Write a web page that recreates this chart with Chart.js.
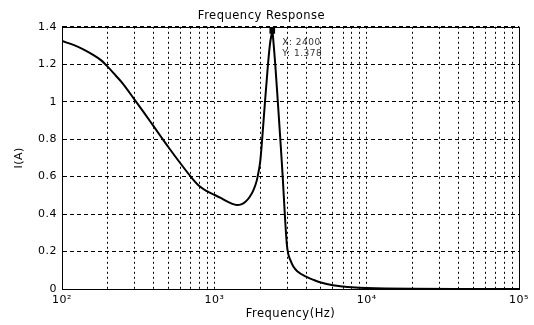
<!DOCTYPE html>
<html>
<head>
<meta charset="utf-8">
<script src="https://cdn.jsdelivr.net/npm/chart.js@4"></script>
<style>
  body { margin: 0; background: #fff; }
  canvas { display: block; }
</style>
</head>
<body>
<canvas id="chart" width="534" height="325"></canvas>
<script>
// datos
const freqHz = [100, 120, 140, 160, 180, 200, 225, 250, 300, 350, 400, 450, 500, 600, 700, 800, 900,
  1000, 1100, 1200, 1300, 1400, 1500, 1600, 1700, 1800, 1900, 1950, 2000, 2060, 2150, 2250,
  2320, 2390, 2400, 2410, 2460, 2510, 2610, 2710, 2810, 2900, 2990, 3050, 3150, 3300, 3500,
  4000, 4500, 5000, 6000, 7000, 8000, 10000, 20000, 50000, 100000];
const currentA = [1.324, 1.302, 1.277, 1.25, 1.222, 1.186, 1.14, 1.098, 1.01, 0.935, 0.868, 0.809, 0.757, 0.67, 0.6, 0.548, 0.521,
  0.503, 0.486, 0.469, 0.456, 0.449, 0.452, 0.466, 0.49, 0.525, 0.58, 0.625, 0.68, 0.8, 1.0, 1.2,
  1.31, 1.37, 1.378, 1.37, 1.29, 1.2, 1.0, 0.8, 0.6, 0.4, 0.24, 0.19, 0.155, 0.12, 0.095,
  0.066, 0.048, 0.035, 0.02, 0.013, 0.009, 0.005, 0.001, 0.0002, 0.0001];

const xTicks = [100, 200, 300, 400, 500, 600, 700, 800, 900,
  1000, 2000, 3000, 4000, 5000, 6000, 7000, 8000, 9000,
  10000, 20000, 30000, 40000, 50000, 60000, 70000, 80000, 90000, 100000];
const xTickLabels = { 100: '10²', 1000: '10³', 10000: '10⁴', 100000: '10⁵' };
const yTicks = [0, 0.2, 0.4, 0.6, 0.8, 1, 1.2, 1.4];

const tipX = 2400;
const tipY = 1.378;

const FONT = "'DejaVu Sans', sans-serif";

// caja negra alrededor del area + texto del datatip
const boxPlugin = {
  id: 'box',
  beforeUpdate(chart) {
    chart.ctx.letterSpacing = '0.5px';
  },
  afterDatasetsDraw(chart) {
    const { ctx, chartArea: a, scales } = chart;
    ctx.save();
    ctx.strokeStyle = '#000';
    ctx.lineWidth = 1;
    ctx.strokeRect(Math.round(a.left) + 0.5, Math.round(a.top) + 0.5,
      Math.round(a.right - a.left), Math.round(a.bottom - a.top));

    const px = scales.x.getPixelForValue(tipX);
    const py = scales.y.getPixelForValue(tipY);
    ctx.fillStyle = '#333';
    ctx.font = '9px ' + FONT;
    ctx.textBaseline = 'middle';
    ctx.fillText('X: ' + tipX, px + 10, py + 12);
    ctx.fillText('Y: ' + tipY, px + 10, py + 23);
    ctx.restore();
  }
};

new Chart(document.getElementById('chart'), {
  type: 'line',
  data: {
    datasets: [
      {
        data: [{ x: tipX, y: tipY }],
        showLine: false,
        pointStyle: 'rect',
        pointRadius: 4,
        backgroundColor: '#000',
        borderColor: '#000',
        borderWidth: 0
      },
      {
        data: freqHz.map((f, i) => ({ x: f, y: currentA[i] })),
        borderColor: '#000',
        borderWidth: 2,
        pointRadius: 0,
        fill: false,
        cubicInterpolationMode: 'monotone'
      }
    ]
  },
  options: {
    responsive: false,
    animation: false,
    devicePixelRatio: 1,
    layout: { padding: { left: 0, right: 11, top: 0, bottom: 0 } },
    plugins: {
      legend: { display: false },
      tooltip: { enabled: false },
      title: {
        display: true,
        text: 'Frequency Response',
        color: '#000',
        font: { family: FONT, size: 11.5, weight: 'normal' },
        padding: { top: 9, bottom: 4 }
      }
    },
    scales: {
      x: {
        type: 'logarithmic',
        min: 100,
        max: 100000,
        afterBuildTicks: (axis) => { axis.ticks = xTicks.map(v => ({ value: v })); },
        afterFit: (s) => { s.height = 36; },
        ticks: {
          autoSkip: false,
          maxRotation: 0,
          padding: 5,
          color: '#000',
          font: { family: FONT, size: 11 },
          callback: (v) => xTickLabels[v] || ''
        },
        grid: { color: '#000', drawTicks: false, lineWidth: 1 },
        border: { display: true, color: '#000', dash: [2, 3] },
        title: {
          display: true,
          text: 'Frequency(Hz)',
          color: '#000',
          font: { family: FONT, size: 11.5 },
          padding: { top: 0, bottom: 4 }
        }
      },
      y: {
        min: 0,
        max: 1.4,
        afterBuildTicks: (axis) => { axis.ticks = yTicks.map(v => ({ value: v })); },
        afterFit: (s) => { s.width = 62; },
        ticks: {
          padding: 5,
          color: '#000',
          font: { family: FONT, size: 11 },
          callback: (v) => String(Number(v.toFixed(1)))
        },
        grid: { color: '#000', drawTicks: false, lineWidth: 1 },
        border: { display: true, color: '#000', dash: [4, 3] },
        title: {
          display: true,
          text: 'I(A)',
          color: '#000',
          font: { family: FONT, size: 11 },
          padding: { top: 13, bottom: 0 }
        }
      }
    }
  },
  plugins: [boxPlugin]
});
</script>
</body>
</html>
